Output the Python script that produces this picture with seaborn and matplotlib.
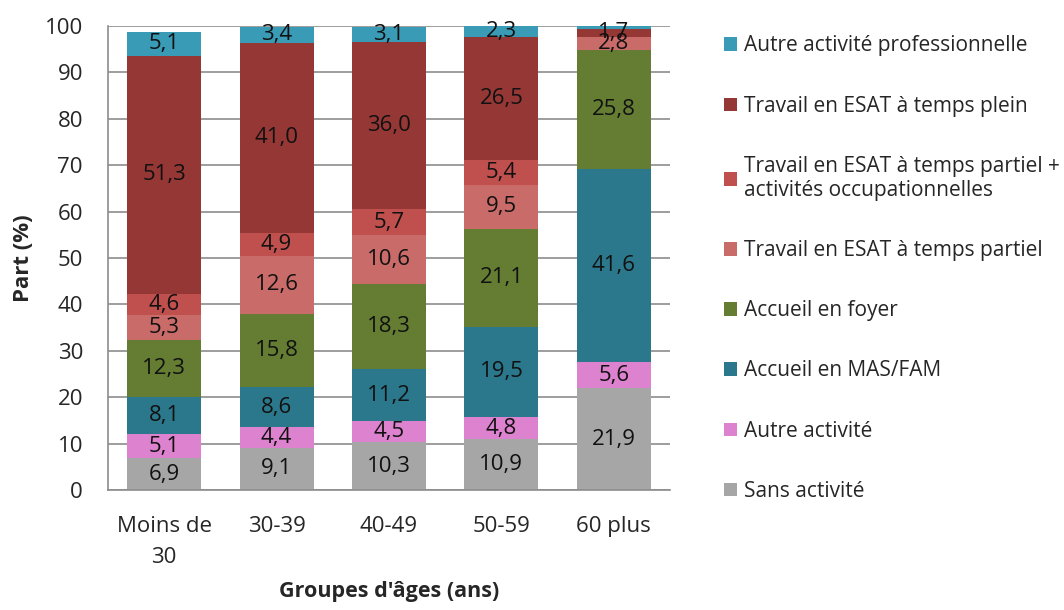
import matplotlib
matplotlib.use("Agg")
import matplotlib.pyplot as plt
import pandas as pd
import seaborn as sns

groupes = ["Moins de\n30", "30-39", "40-49", "50-59", "60 plus"]

# legend order, top of the stack first
activites = [
    "Autre activité professionnelle",
    "Travail en ESAT à temps plein",
    "Travail en ESAT à temps partiel +\nactivités occupationnelles",
    "Travail en ESAT à temps partiel",
    "Accueil en foyer",
    "Accueil en MAS/FAM",
    "Autre activité",
    "Sans activité",
]

autre_pro = [5.1, 3.4, 3.1, 2.3, 0.6]
esat_plein = [51.3, 41.0, 36.0, 26.5, 1.7]
esat_partiel_occ = [4.6, 4.9, 5.7, 5.4, 0.0]
esat_partiel = [5.3, 12.6, 10.6, 9.5, 2.8]
foyer = [12.3, 15.8, 18.3, 21.1, 25.8]
mas_fam = [8.1, 8.6, 11.2, 19.5, 41.6]
autre_act = [5.1, 4.4, 4.5, 4.8, 5.6]
sans_act = [6.9, 9.1, 10.3, 10.9, 21.9]

couleurs = ["#3A9BB6", "#953735", "#C0504D", "#C96B68",
            "#647D33", "#2B788C", "#DD82CE", "#A6A6A6"]

series = [autre_pro, esat_plein, esat_partiel_occ, esat_partiel,
          foyer, mas_fam, autre_act, sans_act]

rows = []
for act, vals in zip(activites, series):
    for g, v in zip(groupes, vals):
        rows.append({"groupe": g, "activite": act, "part": v})
df = pd.DataFrame(rows)

sns.set_style("white")
plt.rcParams["font.family"] = ["Open Sans", "DejaVu Sans"]

fig, ax = plt.subplots(figsize=(10.64, 6.1), dpi=100)
fig.subplots_adjust(left=0.1015, right=0.6297, bottom=0.1967, top=0.9574)

sns.histplot(data=df, x="groupe", weights="part", hue="activite",
             hue_order=activites, palette=couleurs, multiple="stack",
             discrete=True, shrink=0.66, alpha=1, linewidth=0, ax=ax)

for cont in ax.containers:
    labels = []
    for bar in cont:
        h = bar.get_height()
        labels.append(f"{h:.1f}".replace(".", ",") if h >= 1 else "")
    ax.bar_label(cont, labels=labels, label_type="center",
                 fontsize=16, color="#111111")

grid_col = "#8C8C8C"
ax.set_ylim(0, 100)
ax.set_yticks(range(0, 101, 10))
ax.yaxis.grid(True, color=grid_col, linewidth=1.2)
ax.set_axisbelow(True)
ax.set_xlim(-0.5, 4.5)
ax.set_xticks(range(5), groupes)
ax.set_xticks([i - 0.5 for i in range(6)], minor=True)
ax.tick_params(axis="x", which="major", length=0, pad=19, labelsize=16)
ax.tick_params(axis="x", which="minor", length=6, color=grid_col, width=1.2)
ax.tick_params(axis="y", length=6, color=grid_col, width=1.2, labelsize=16, pad=12)
for lab in ax.get_xticklabels():
    lab.set_linespacing(1.6)
for s in ["top", "right"]:
    ax.spines[s].set_visible(False)
for s in ["left", "bottom"]:
    ax.spines[s].set_color(grid_col)
    ax.spines[s].set_linewidth(1.2)

ax.set_xlabel("Groupes d'âges (ans)", fontsize=15.5, fontweight="bold", labelpad=9)
ax.set_ylabel("Part (%)", fontsize=16, fontweight="bold", labelpad=8)

sns.move_legend(ax, loc="upper left", bbox_to_anchor=(1.063, 1.02),
                frameon=False, title=None, fontsize=15, labelspacing=1.88,
                handlelength=0.62, handleheight=0.62, handletextpad=0.35)

fig.savefig("out.png", dpi=100)
